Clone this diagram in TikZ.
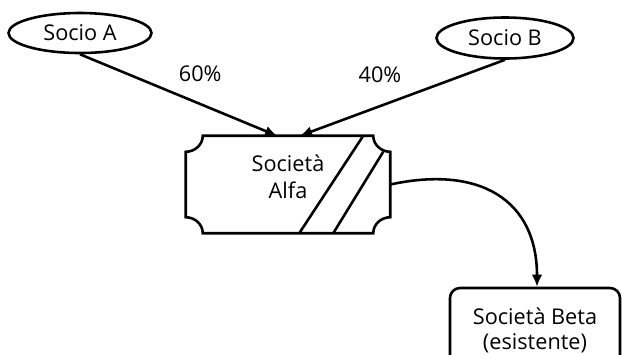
\documentclass[tikz,border=0pt]{standalone}
\usepackage{fontspec}
\setmainfont{Open Sans}
\usetikzlibrary{arrows.meta,positioning,shapes.geometric,calc}

\begin{document}
\begin{tikzpicture}[
  x=0.03cm, y=-0.03cm,
  font=\fontsize{18.5}{23}\selectfont,
  partner/.style={ellipse,draw,line width=2.2pt,inner sep=0pt},
  company/.style={rectangle,inner sep=0pt,minimum width=6.12cm,minimum height=2.91cm},
  target/.style={rectangle,draw,line width=2.2pt,rounded corners=3mm,align=center,minimum width=5.1cm,minimum height=2.52cm},
  outline/.style={line width=2.2pt},
  arr/.style={-{Latex[length=3.6mm,width=3.2mm]},line width=2.2pt}
]
\useasboundingbox (0,0) rectangle (622,354);
\clip (0,0) rectangle (622,354);

\node[partner,minimum width=4.29cm,minimum height=1.2cm] (socioA) at (80,33) {Socio A};
\node[partner,minimum width=4.11cm,minimum height=1.23cm] (socioB) at (505,38) {Socio B};
\node[company] (alfa) at (288,184.5) {};
\node[align=center] (alfatxt) at (288,177) {Società\\Alfa};
\node[target,font=\fontsize{18.5}{21.5}\selectfont] (beta) at (535,330) {Società Beta\\(esistente)};

% contorno societa' con angoli rientranti
\draw[outline] ($(alfa.north west)+(17,0)$) -- ($(alfa.north east)+(-17,0)$)
  .. controls +(0,9) and +(-9,0) .. ++(17,16)
  -- ($(alfa.south east)+(0,-16)$)
  .. controls +(-9,0) and +(0,-9) .. ++(-17,16)
  -- ($(alfa.south west)+(17,0)$)
  .. controls +(0,-9) and +(9,0) .. ++(-17,-16)
  -- ($(alfa.north west)+(0,16)$)
  .. controls +(9,0) and +(0,9) .. cycle;
\draw[outline] ($(alfa.north east)+(-27,0)$) -- ($(alfa.south east)+(-91,0)$);
\draw[outline] ($(alfa.north east)+(-7,16)$) -- ($(alfa.south east)+(-57,0)$);

\draw[arr] (socioA.south) -- node[pos=.61,yshift=9mm]{60\%} ($(alfa.north)+(-11,0)$);
\draw[arr] (socioB.south) -- node[pos=.61,yshift=9.5mm]{40\%} ($(alfa.north)+(12,0)$);
\draw[arr] (alfa.east) .. controls (480,165) and (537,200) .. ($(beta.north)+(2,0)$);
\end{tikzpicture}
\end{document}
